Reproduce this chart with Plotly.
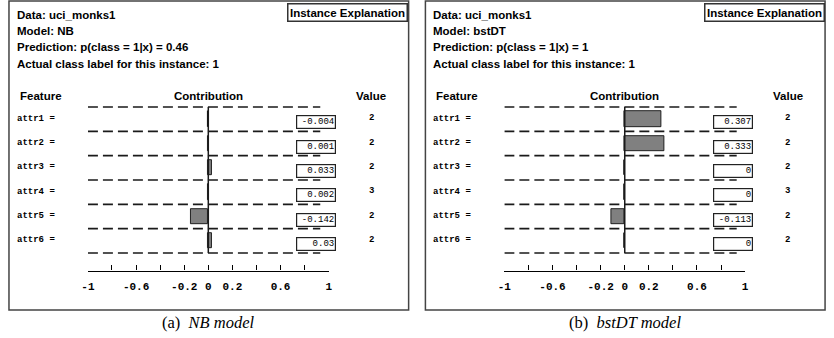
import plotly.graph_objects as go

W, H = 834, 338

# ---------------- data ----------------
features = ["attr1 =", "attr2 =", "attr3 =", "attr4 =", "attr5 =", "attr6 ="]
feature_values = ["2", "2", "2", "3", "2", "2"]

nb_contrib = [-0.004, 0.001, 0.033, 0.002, -0.142, 0.03]
nb_labels = ["-0.004", "0.001", "0.033", "0.002", "-0.142", "0.03"]

bst_contrib = [0.307, 0.333, 0.0, 0.0, -0.113, 0.0]
bst_labels = ["0.307", "0.333", "0", "0", "-0.113", "0"]

tick_vals = [-1, -0.8, -0.6, -0.4, -0.2, 0, 0.2, 0.4, 0.6, 0.8, 1]
tick_text = ["<b>-1</b>", "", "<b>-0.6</b>", "", "<b>-0.2</b>", "<b>0</b>", "<b>0.2</b>", "",
             "<b>0.6</b>", "", "<b>1</b>"]

panels = [
    dict(data="uci_monks1", model="NB", pred="0.46", actual="1",
         contrib=nb_contrib, labels=nb_labels, caption="(a)  <i>NB model</i>"),
    dict(data="uci_monks1", model="bstDT", pred="1", actual="1",
         contrib=bst_contrib, labels=bst_labels, caption="(b)  <i>bstDT model</i>"),
]

# ---------------- layout helpers ----------------
def px(x):
    return x / W

def py(y):
    return 1 - y / H

OFFSETS = [0, 422]
SANS = "Liberation Sans, Arial, sans-serif"
MONO = "Liberation Mono, Courier New, monospace"
SERIF = "Liberation Serif, Times New Roman, serif"

fig = go.Figure()
shapes = []
annotations = []
n = len(features)
rows = [i + 0.5 for i in range(n)]
pad = 0.2                      # extra room so edge lines are not clipped
unit = (253 - 107) / n         # pixels per row

for k, (p, off) in enumerate(zip(panels, OFFSETS)):
    xa = "x" if k == 0 else "x2"
    ya = "y" if k == 0 else "y2"
    xkey = "xaxis" if k == 0 else "xaxis2"
    ykey = "yaxis" if k == 0 else "yaxis2"

    fig.add_trace(go.Bar(
        x=p["contrib"], y=rows, orientation="h", width=0.62,
        marker=dict(color="#808080", line=dict(color="#111111", width=0.9)),
        xaxis=xa, yaxis=ya, showlegend=False, hoverinfo="skip",
    ))

    fig.update_layout(**{
        xkey: dict(
            domain=[px(82 + off), px(326 + off)], range=[-1, 1],
            anchor="free", position=py(270.5), showgrid=False, zeroline=False,
            showline=True, linecolor="#000000", linewidth=1.3,
            ticks="inside", ticklen=5, tickwidth=1.3, tickcolor="#000000",
            tickvals=tick_vals, ticktext=tick_text,
            tickfont=dict(family=MONO, size=11, color="#000000"),
            ticklabelstandoff=5, fixedrange=True,
        ),
        ykey: dict(
            domain=[py(253 + pad * unit), py(107 - pad * unit)],
            range=[n + pad, -pad], anchor=xa,
            showgrid=False, zeroline=False, showline=False,
            showticklabels=False, ticks="", fixedrange=True,
        ),
    })

    # dashed row separators
    for i in range(n + 1):
        shapes.append(dict(type="line", xref=xa, yref=ya, x0=-1, x1=0.93, y0=i, y1=i,
                           line=dict(color="#1a1a1a", width=1.6, dash="10px,5px")))
    # zero line
    shapes.append(dict(type="line", xref=xa, yref=ya, x0=0, x1=0, y0=0, y1=n,
                       line=dict(color="#1a1a1a", width=1.5)))

    # outer panel box
    shapes.append(dict(type="rect", xref="paper", yref="paper",
                       x0=px(2 + off), x1=px(407 + off), y0=py(310), y1=py(1),
                       line=dict(color="#444444", width=1.5)))

    # header texts
    header = [
        f"Data: {p['data']}",
        f"Model: {p['model']}",
        f"Prediction: p(class = 1|x) = {p['pred']}",
        f"Actual class label for this instance: {p['actual']}",
    ]
    for j, t in enumerate(header):
        annotations.append(dict(xref="paper", yref="paper", x=px(8 + off), y=py(15 + 16.2 * j),
                                xanchor="left", yanchor="middle", showarrow=False,
                                text=f"<b>{t}</b>", font=dict(family=SANS, size=11.5, color="#000")))

    annotations.append(dict(xref="paper", yref="paper", x=px(345.5 + off), y=py(12.5),
                            xanchor="center", yanchor="middle", showarrow=False,
                            text="<b>Instance Explanation</b>", width=116, height=14,
                            bordercolor="#333333", borderwidth=1.5, borderpad=1,
                            bgcolor="#ffffff",
                            font=dict(family=SANS, size=11.5, color="#000")))

    # column headers
    for t, cx in [("Feature", 34), ("Contribution", 204), ("Value", 369)]:
        annotations.append(dict(xref="paper", yref="paper", x=px(cx + off), y=py(95.5),
                                xanchor="center", yanchor="middle", showarrow=False,
                                text=f"<b>{t}</b>", font=dict(family=SANS, size=11.5, color="#000")))

    for i in range(n):
        # feature name
        annotations.append(dict(xref="paper", yref=ya, x=px(8 + off), y=rows[i],
                                xanchor="left", yanchor="middle", showarrow=False, yshift=0.5,
                                text=f"<b>{features[i]}</b>",
                                font=dict(family=MONO, size=9, color="#000")))
        # contribution value box
        annotations.append(dict(xref="paper", yref=ya, x=px(333.5 + off), y=rows[i],
                                xanchor="right", yanchor="middle", showarrow=False, yshift=-3,
                                text=p["labels"][i], width=36, height=10, align="right",
                                bordercolor="#222222", borderwidth=1.2, borderpad=1,
                                bgcolor="#ffffff",
                                font=dict(family=MONO, size=9, color="#000")))
        # feature value
        annotations.append(dict(xref="paper", yref=ya, x=px(369 + off), y=rows[i],
                                xanchor="center", yanchor="middle", showarrow=False, yshift=1,
                                text=f"<b>{feature_values[i]}</b>",
                                font=dict(family=MONO, size=9, color="#000")))

    # caption
    annotations.append(dict(xref="paper", yref="paper", x=px(204 + off), y=py(322),
                            xanchor="center", yanchor="middle", showarrow=False,
                            text=p["caption"], font=dict(family=SERIF, size=16.5, color="#000")))

fig.update_layout(
    width=W, height=H, margin=dict(l=0, r=0, t=0, b=0),
    paper_bgcolor="#ffffff", plot_bgcolor="rgba(0,0,0,0)",
    shapes=shapes, annotations=annotations, bargap=0, showlegend=False,
)

fig.write_html("out.html", config={"displayModeBar": False})
